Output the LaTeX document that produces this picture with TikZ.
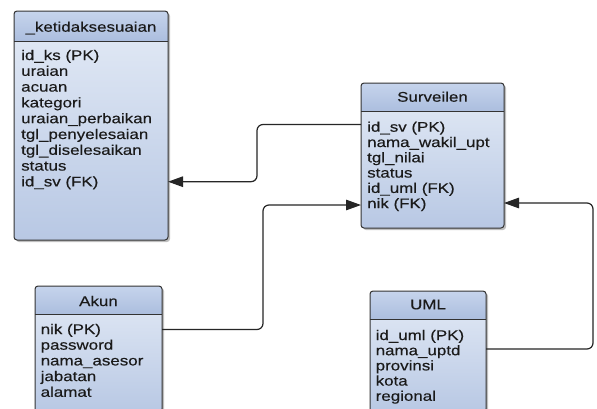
\documentclass[tikz,border=0pt]{standalone}
\usepackage{fontspec}
\setmainfont{Liberation Sans}[FakeStretch=1.21,FakeBold=0.3]
\usetikzlibrary{arrows.meta,shadows}
\definecolor{hdtop}{HTML}{C6D4EC}
\definecolor{hdbot}{HTML}{A7BADC}
\definecolor{bdtop}{HTML}{E4EBF6}
\definecolor{bdbot}{HTML}{B8C8E4}
\definecolor{edgecol}{HTML}{333333}
\definecolor{txtcol}{HTML}{1A1A1A}
\tikzset{
  entbox/.style={rectangle, rounded corners=3pt, inner sep=0pt, outer sep=0pt,
    top color=bdtop, bottom color=bdbot,
    drop shadow={shadow xshift=2pt, shadow yshift=-2pt, opacity=0.25, fill=black}},
  hdshade/.style={top color=hdtop, bottom color=hdbot, rounded corners=3pt},
  outline/.style={draw=edgecol, line width=1pt, rounded corners=3pt},
  sepline/.style={draw=edgecol, line width=1pt},
  title/.style={anchor=base, inner sep=0pt, text=txtcol, font=\fontsize{14pt}{16pt}\selectfont},
  field/.style={anchor=base west, inner sep=0pt, text=txtcol, font=\fontsize{14pt}{16pt}\selectfont},
  conn/.style={draw=black!85, line width=1.2pt, rounded corners=6pt,
    -{Triangle[length=15pt,width=10.5pt]}}
}
\begin{document}
\begin{tikzpicture}[x=1pt,y=-1pt]
\useasboundingbox (0,0) rectangle (597,408);
\clip (0,0) rectangle (597,408);
\fill[white] (0,0) rectangle (597,408);

% ---------- _ketidaksesuaian ----------
\node[entbox, minimum width=154pt, minimum height=229pt] (ks) at (91,125.5) {};
\begin{scope}
  \clip (ks.north west) rectangle (ks.east |- 0,41);
  \shade[hdshade] (ks.north west) rectangle (ks.east |- 0,46);
\end{scope}
\draw[sepline] (ks.west |- 0,41) -- (ks.east |- 0,41);
\draw[outline] (ks.north west) rectangle (ks.south east);
\node[title] (ks-t) at (91,31.7) {\_ketidaksesuaian};
\foreach \t [count=\i] in {id\_ks (PK), uraian, acuan, kategori, uraian\_perbaikan,
  tgl\_penyelesaian, tgl\_diselesaikan, status, id\_sv (FK)}
  \node[field] (ks-\i) at (21,{60+15.8*(\i-1)}) {\t};

% ---------- Surveilen ----------
\node[entbox, minimum width=143pt, minimum height=145pt] (sv) at (432.5,155.5) {};
\begin{scope}
  \clip (sv.north west) rectangle (sv.east |- 0,111);
  \shade[hdshade] (sv.north west) rectangle (sv.east |- 0,116);
\end{scope}
\draw[sepline] (sv.west |- 0,111) -- (sv.east |- 0,111);
\draw[outline] (sv.north west) rectangle (sv.south east);
\node[title] (sv-t) at (432.5,101.7) {Surveilen};
\foreach \t [count=\i] in {id\_sv (PK), nama\_wakil\_upt, tgl\_nilai, status, id\_uml (FK), nik (FK)}
  \node[field] (sv-\i) at (367,{131.7+15.3*(\i-1)}) {\t};

% ---------- Akun ----------
\node[entbox, minimum width=127pt, minimum height=126pt] (ak) at (98.5,349) {};
\begin{scope}
  \clip (ak.north west) rectangle (ak.east |- 0,314);
  \shade[hdshade] (ak.north west) rectangle (ak.east |- 0,319);
\end{scope}
\draw[sepline] (ak.west |- 0,314) -- (ak.east |- 0,314);
\draw[outline] (ak.north west) rectangle (ak.south east);
\node[title] (ak-t) at (98.5,306) {Akun};
\foreach \t [count=\i] in {nik (PK), password, nama\_asesor, jabatan, alamat}
  \node[field] (ak-\i) at (40.5,{334+15.7*(\i-1)}) {\t};

% ---------- UML ----------
\node[entbox, minimum width=116pt, minimum height=121pt] (um) at (428,351.5) {};
\begin{scope}
  \clip (um.north west) rectangle (um.east |- 0,319);
  \shade[hdshade] (um.north west) rectangle (um.east |- 0,324);
\end{scope}
\draw[sepline] (um.west |- 0,319) -- (um.east |- 0,319);
\draw[outline] (um.north west) rectangle (um.south east);
\node[title] (um-t) at (428,309.3) {UML};
\foreach \t [count=\i] in {id\_uml (PK), nama\_uptd, provinsi, kota, regional}
  \node[field] (um-\i) at (375.5,{340+15.2*(\i-1)}) {\t};

% ---------- connectors ----------
\coordinate (k1) at (257,124.5);
\coordinate (k2) at (257,181.7);
\draw[conn] (sv.west |- k1) -- (k1) -- (k2) -- (ks.east |- k2);

\coordinate (k3) at (263,329.5);
\coordinate (k4) at (263,205);
\draw[conn] (ak.east |- k3) -- (k3) -- (k4) -- (sv.west |- k4);

\coordinate (k5) at (593,349);
\coordinate (k6) at (593,203);
\draw[conn] (um.east |- k5) -- (k5) -- (k6) -- (sv.east |- k6);
\end{tikzpicture}
\end{document}
